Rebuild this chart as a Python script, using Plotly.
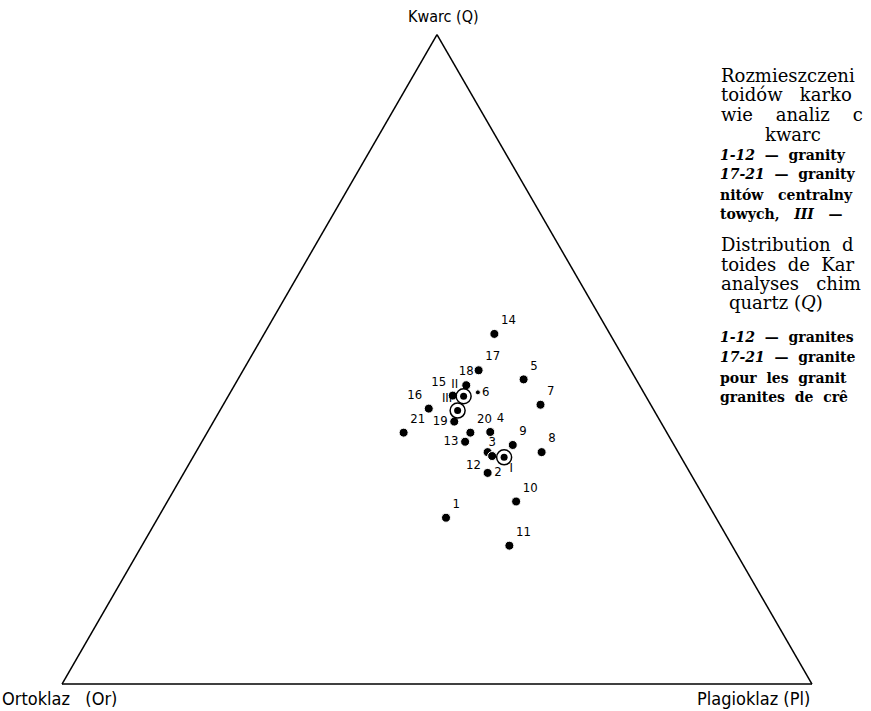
import plotly.graph_objects as go

# Ternary data: Q (quartz), Or (orthoclase), Pl (plagioclase) fractions
labels = ["14", "17", "18", "5", "15", "6", "7", "16", "19", "21", "20", "4",
          "13", "9", "12", "3", "8", "2", "10", "1", "11"]
q_vals = [0.539, 0.483, 0.460, 0.469, 0.444, 0.449, 0.430, 0.424, 0.404, 0.387, 0.387, 0.388,
          0.373, 0.368, 0.357, 0.351, 0.357, 0.325, 0.281, 0.256, 0.213]
or_vals = [0.154, 0.203, 0.231, 0.150, 0.257, 0.221, 0.147, 0.299, 0.275, 0.351, 0.262, 0.235,
           0.276, 0.215, 0.254, 0.251, 0.182, 0.270, 0.254, 0.360, 0.297]
pl_vals = [0.307, 0.314, 0.309, 0.381, 0.299, 0.330, 0.423, 0.277, 0.321, 0.262, 0.351, 0.377,
           0.351, 0.417, 0.389, 0.398, 0.461, 0.405, 0.465, 0.384, 0.490]
label_pos = ["top right", "top right", "top center", "top right", "top left", "middle right",
             "top right", "top left", "middle left", "top right", "top right", "top right",
             "middle left", "top right", "bottom left", "top center", "top right", "middle right",
             "top right", "top right", "top right"]

# Mean values (circled points)
mean_labels = ["I", "II", "III"]
mean_q = [0.349, 0.443, 0.421]
mean_or = [0.236, 0.243, 0.262]
mean_pl = [0.415, 0.314, 0.317]
mean_pos = ["bottom right", "top left", "top left"]

NARROW = "Liberation Sans Narrow, DejaVu Sans Condensed, sans-serif"
LBL_FONT = dict(family=NARROW, size=13, color="black")

fig = go.Figure()

sizes = [9 if l != "6" else 5 for l in labels]
fig.add_trace(go.Scatterternary(
    a=q_vals, b=or_vals, c=pl_vals, mode="markers+text",
    text=labels, textposition=label_pos, textfont=LBL_FONT,
    marker=dict(color="black", size=sizes, opacity=1), cliponaxis=False, showlegend=False))

fig.add_trace(go.Scatterternary(
    a=mean_q, b=mean_or, c=mean_pl, mode="markers",
    marker=dict(symbol="circle-open", color="black", size=15, line=dict(width=1.5)),
    showlegend=False))
fig.add_trace(go.Scatterternary(
    a=mean_q, b=mean_or, c=mean_pl, mode="markers+text",
    text=mean_labels, textposition=mean_pos, textfont=LBL_FONT,
    marker=dict(color="black", size=7, opacity=1), cliponaxis=False, showlegend=False))

axis_style = dict(showticklabels=False, ticks="", showgrid=False, linecolor="black",
                  linewidth=1.5, title=dict(text=""))

fig.update_layout(
    width=871, height=711,
    margin=dict(l=0, r=0, t=0, b=0),
    paper_bgcolor="white",
    ternary=dict(
        sum=1,
        bgcolor="white",
        domain=dict(x=[62 / 871, 812 / 871], y=[27 / 711, 676.5 / 711]),
        aaxis=axis_style, baxis=axis_style, caxis=axis_style,
    ),
)

AX = "Liberation Sans Narrow, DejaVu Sans Condensed, sans-serif"
fig.add_annotation(x=443 / 871, y=1 - 17 / 711, xref="paper", yref="paper", text="Kwarc (Q)",
                   showarrow=False, font=dict(family=AX, size=16, color="black"),
                   xanchor="center", yanchor="middle")
fig.add_annotation(x=0, y=1 - 698 / 711, xref="paper", yref="paper", text="Ortoklaz\u00a0\u00a0\u00a0(Or)",
                   showarrow=False, font=dict(family=AX, size=18, color="black"),
                   xanchor="left", yanchor="middle")
fig.add_annotation(x=812 / 871, y=1 - 698 / 711, xref="paper", yref="paper", text="Plagioklaz (Pl)",
                   showarrow=False, font=dict(family=AX, size=18, color="black"),
                   xanchor="right", yanchor="middle")

S = "\u00a0\u00a0"
S3 = "\u00a0\u00a0\u00a0"
# Caption text on the right, as visible up to the page edge
caption_big = [
    (719, 76, "Rozmieszczeni"),
    (719, 95, "toidów" + S3 + "karko"),
    (719, 115, "wie" + S + S + "analiz" + S + S + "c"),
    (763, 134, "kwarc"),
    (719, 245, "Distribution" + S + "d"),
    (719, 264, "toides" + S + "de" + S + "Kar"),
    (719, 283, "analyses" + S3 + "chim"),
    (727, 302, "quartz (<i>Q</i>)"),
]
caption_small = [
    (718, 155, "<i>1-12</i>" + S + "—" + S + "granity"),
    (718, 174, "<i>17-21</i>" + S + "—" + S + "granity"),
    (718, 195, "nitów" + S3 + "centralny"),
    (718, 214, "towych," + S3 + "<i>III</i>" + S3 + "—"),
    (718, 337, "<i>1-12</i>" + S + "—" + S + "granites"),
    (718, 357, "<i>17-21</i>" + S + "—" + S + "granite"),
    (718, 378, "pour" + S + "les" + S + "granit"),
    (718, 397, "granites" + S + "de" + S + "crê"),
]
SERIF = "DejaVu Serif, Liberation Serif, serif"
for x, y, t in caption_big:
    fig.add_annotation(x=x / 871, y=1 - y / 711, xref="paper", yref="paper", text=t,
                       showarrow=False, xanchor="left", yanchor="middle",
                       font=dict(family=SERIF, size=18, color="black"))
for x, y, t in caption_small:
    fig.add_annotation(x=x / 871, y=1 - y / 711, xref="paper", yref="paper", text="<b>" + t + "</b>",
                       showarrow=False, xanchor="left", yanchor="middle",
                       font=dict(family=SERIF, size=14, color="black"))

fig.write_html("out.html")
